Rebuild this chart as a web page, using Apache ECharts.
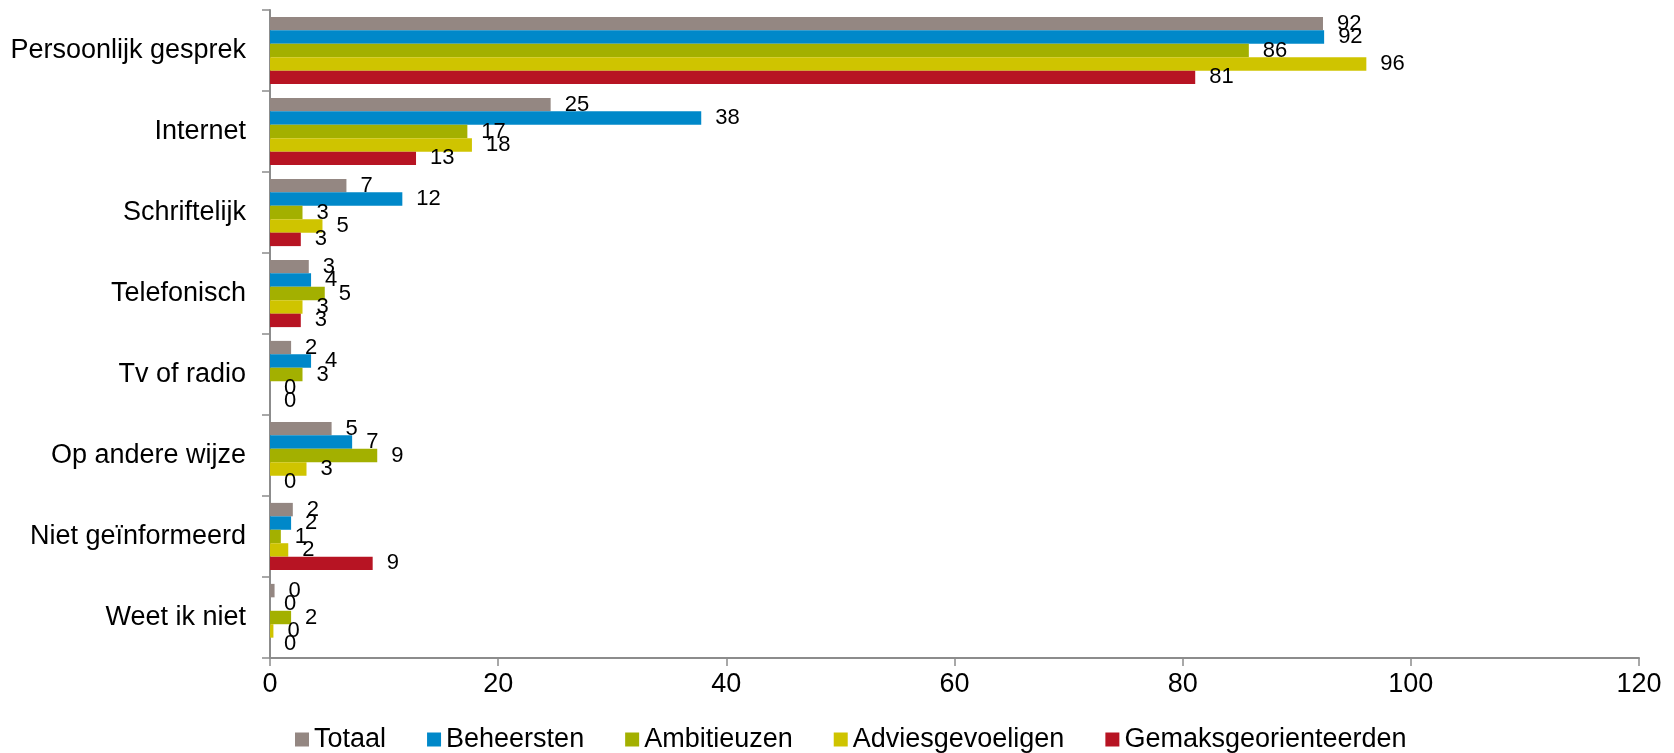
<!DOCTYPE html>
<html>
<head>
<meta charset="utf-8">
<script src="https://cdn.jsdelivr.net/npm/echarts@6/dist/echarts.min.js"></script>
<style>
  html, body { margin: 0; padding: 0; background: #fff; }
  #chart { width: 1674px; height: 753px; }
</style>
</head>
<body>
<div id="chart"></div>
<script>
'use strict';

// categories, top to bottom
var categories = ['Persoonlijk gesprek', 'Internet', 'Schriftelijk', 'Telefonisch',
    'Tv of radio', 'Op andere wijze', 'Niet geïnformeerd', 'Weet ik niet'];

var seriesNames = ['Totaal', 'Beheersten', 'Ambitieuzen', 'Adviesgevoeligen', 'Gemaksgeorienteerden'];

var totaal           = [92.3, 24.6, 6.7, 3.4, 1.85, 5.4, 2.0, 0.4];
var beheersten       = [92.4, 37.8, 11.6, 3.6, 3.6, 7.2, 1.85, 0];
var ambitieuzen      = [85.8, 17.3, 2.85, 4.8, 2.85, 9.4, 0.95, 1.85];
var adviesgevoeligen = [96.1, 17.7, 4.6, 2.85, 0, 3.2, 1.6, 0.3];
var gemaks           = [81.1, 12.8, 2.7, 2.7, 0, 0, 9.0, 0];

var xTicks = [0, 20, 40, 60, 80, 100, 120];

var colors = ['#948782', '#0088c9', '#a3b000', '#cfc400', '#b71423'];
var seriesData = [totaal, beheersten, ambitieuzen, adviesgevoeligen, gemaks];

var font = 'Liberation Sans, Arial, sans-serif';
var axisColor = '#8c8c8c';

var chart = echarts.init(document.getElementById('chart'));

var series = seriesNames.map(function (name, i) {
    return {
        name: name,
        type: 'bar',
        data: seriesData[i],
        barGap: '0%',
        barCategoryGap: '17%',
        itemStyle: { color: colors[i] },
        label: {
            show: true,
            position: 'right',
            distance: 14,
            color: '#000',
            fontFamily: font,
            fontSize: 22,
            formatter: function (p) { return Math.round(p.value); }
        }
    };
});

chart.setOption({
    animation: false,
    color: colors,
    grid: { left: 270, right: 35, top: 10, bottom: 95 },
    legend: {
        data: seriesNames,
        left: 290,
        top: 721,
        icon: 'rect',
        itemWidth: 14,
        itemHeight: 14,
        itemGap: 41,
        textStyle: { fontFamily: font, fontSize: 27, color: '#000' }
    },
    xAxis: {
        type: 'value',
        min: xTicks[0],
        max: xTicks[xTicks.length - 1],
        interval: 20,
        axisLine: { show: true, lineStyle: { color: axisColor, width: 2 } },
        axisTick: { show: true, length: 8, lineStyle: { color: axisColor, width: 1.5 } },
        splitLine: { show: false },
        axisLabel: { fontFamily: font, fontSize: 27, color: '#000', margin: 13 }
    },
    yAxis: {
        type: 'category',
        data: categories,
        inverse: true,
        axisLine: { show: true, lineStyle: { color: axisColor, width: 2 } },
        axisTick: { show: true, length: 8, inside: false, lineStyle: { color: axisColor, width: 1.5 } },
        axisLabel: { fontFamily: font, fontSize: 27, color: '#000', margin: 24 }
    },
    series: series
});
</script>
</body>
</html>
